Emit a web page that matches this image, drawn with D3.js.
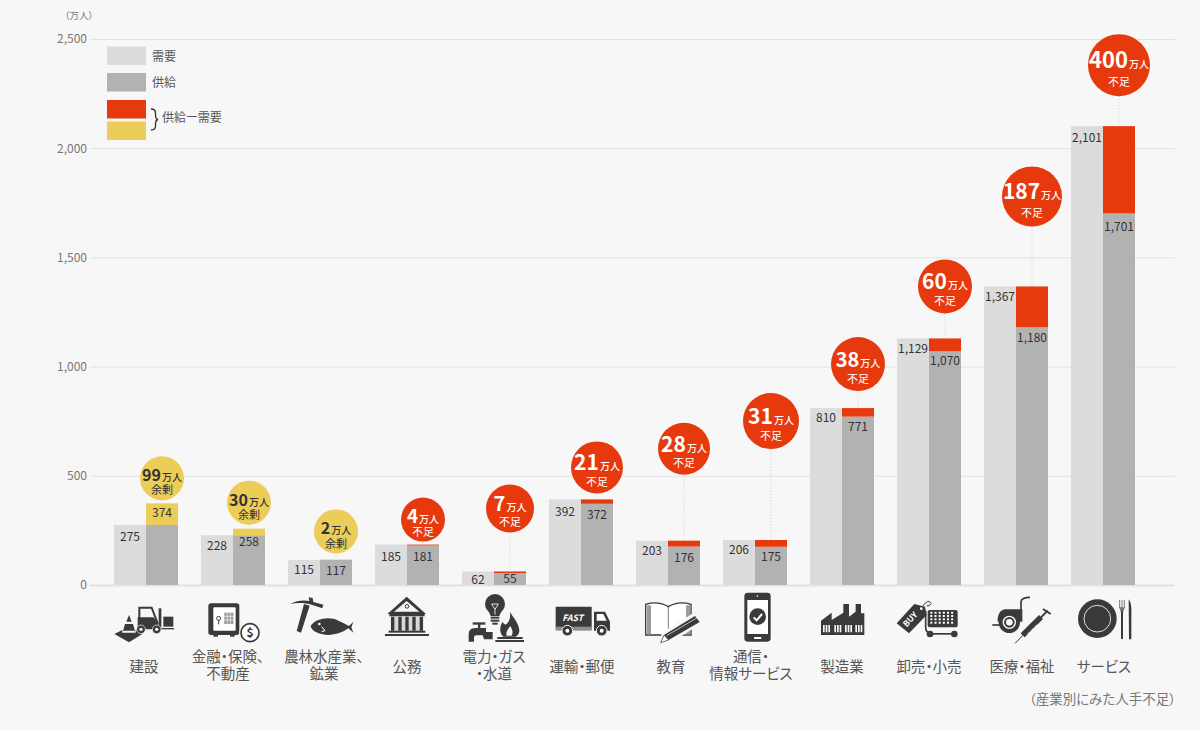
<!DOCTYPE html>
<html lang="ja">
<head>
<meta charset="utf-8">
<title>産業別にみた人手不足</title>
<script src="https://cdn.jsdelivr.net/npm/d3@7"></script>
<style>
    body { margin: 0; background: #f7f7f7; }
    svg { display: block; }
    text { font-family: "Noto Sans CJK JP", "Noto Sans", sans-serif; font-feature-settings: "palt"; }
</style>
</head>
<body>
<script>
//chart values
var categories = ["建設", "金融・保険、不動産", "農林水産業、鉱業", "公務", "電力・ガス・水道", "運輸・郵便", "教育", "通信・情報サービス", "製造業", "卸売・小売", "医療・福祉", "サービス"];
var categoryLines = [["建設"], ["金融・保険、", "不動産"], ["農林水産業、", "鉱業"], ["公務"], ["電力・ガス", "・水道"], ["運輸・郵便"], ["教育"], ["通信・", "情報サービス"], ["製造業"], ["卸売・小売"], ["医療・福祉"], ["サービス"]];
var demand = [275, 228, 115, 185, 62, 392, 203, 206, 810, 1129, 1367, 2101];
var supply = [374, 258, 117, 181, 55, 372, 176, 175, 771, 1070, 1180, 1701];
var gapLabels = [99, 30, 2, 4, 7, 21, 28, 31, 38, 60, 187, 400];
var yTicks = [0, 500, 1000, 1500, 2000, 2500];

//hand placed layout
var bubbleRadius = [22, 22, 22, 22, 24, 26, 26, 28, 27, 27, 30, 31];
var bubbleGap = [3, 4, 6, 3, 39, 6, 66, 91, 17, 25, 60, 30];
var bubbleFont = [16, 16, 16, 19, 20, 21, 21, 21, 20, 21, 21, 22];
var demandLabelGap = [12, 11, 10, 12, 8, 12, 10, 10, 10, 10, 10, 12];
var supplyLabelGap = [9, 13, 11, 11, 6, 11, 11, 10, 10, 9, 11, 13];
var labelShift = [-2, -5, 4, 0, 0, 1, 3, -4, 0, 0, 6, 1];

var RED = "#e63a0e", YELLOW = "#eccd58", LIGHT = "#dcdcdc", GREY = "#b2b2b2", DARK = "#3a3a3a", BG = "#f7f7f7";

//icons are drawn at 3x, "dx" moves them from the centre of the category
var icons = [
    {dx: -41, svg: `
        <path d="M28 132L52 120V128H92V120L112 132L72 157Z"/>
        <path d="M72 75L64 95H80ZM60 102H84L90 122H54Z"/>
        <path d="M103 85V53H140L158 100" fill="none" stroke="${DARK}" stroke-width="6"/>
        <path d="M98 82H145L160 100V118H98Z"/>
        <rect x="161" y="55" width="8" height="65"/><rect x="175" y="80" width="30" height="30"/><rect x="170" y="114" width="37" height="4"/>
        <circle cx="108" cy="118" r="13" stroke="${BG}" stroke-width="2"/><circle cx="108" cy="118" r="5" fill="${BG}"/>
        <circle cx="155" cy="118" r="13" stroke="${BG}" stroke-width="2"/><circle cx="155" cy="118" r="5" fill="${BG}"/>`},
    {dx: -128, svg: `
        <rect x="310" y="40" width="93" height="95" rx="8"/>
        <rect x="325" y="52" width="67" height="70" rx="3" fill="#fff"/>
        <rect x="325" y="135" width="14" height="5"/><rect x="375" y="135" width="14" height="5"/>
        <circle cx="341" cy="85" r="6" fill="none" stroke="${DARK}" stroke-width="3"/><rect x="339.5" y="91" width="3" height="12"/>
        <rect x="358" y="68" width="27" height="34" fill="#9a9a9a"/>
        <path d="M367 68V102M376 68V102M358 79H385M358 90H385" stroke="#fff" stroke-width="2"/>
        <circle cx="435" cy="128" r="32" fill="${BG}"/>
        <circle cx="435" cy="128" r="27" fill="#fff" stroke="${DARK}" stroke-width="5"/>
        <text x="435" y="141" text-anchor="middle" font-size="36" font-weight="700">$</text>`},
    {dx: -40, svg: `
        <path d="M30 42C50 30 75 30 88 33L86 22L98 24L100 36L130 44L127 55L95 44C75 38 50 38 30 42Z"/>
        <path d="M72 42L89 47L63 128L50 123Z"/>
        <path d="M92 108C105 85 150 78 175 92C190 98 200 105 207 108L220 95L214 112L220 128L205 115C185 130 150 140 125 132C108 128 95 122 92 108Z"/>
        <circle cx="118" cy="102" r="4" fill="#fff"/>
        <path d="M125 110L135 122L125 125" fill="none" stroke="#fff" stroke-width="3"/>`},
    {dx: -127, svg: `
        <path d="M322 72L380 20L438 72Z"/><path d="M342 65L380 33L418 65Z" fill="${BG}"/>
        <circle cx="381" cy="49" r="5.5" fill="none" stroke="${DARK}" stroke-width="3"/>
        <rect x="328" y="70" width="106" height="9"/>
        <rect x="332" y="80" width="98" height="42" fill="#d8d8d8"/>
        <path d="M338 80V122M360 80V122M381 80V122M402 80V122M424 80V122" stroke="${DARK}" stroke-width="10"/>
        <rect x="326" y="122" width="110" height="6"/><rect x="315" y="132" width="132" height="6"/>`},
    {dx: -34, svg: `
        <circle cx="105" cy="42" r="30"/><path d="M85 62H125L118 78H92Z"/>
        <rect x="92" y="80" width="26" height="6"/><rect x="92" y="89" width="26" height="6"/><rect x="97" y="98" width="16" height="6"/>
        <path d="M95 42H115L105 58ZM105 58V74" fill="none" stroke="#fff" stroke-width="2.5"/>
        <rect x="38" y="97" width="38" height="7"/><rect x="54" y="100" width="7" height="16"/>
        <path d="M26 155V132Q26 114 46 114H78V126H98V148H72L68 136H48Q42 136 42 142V155Z"/>
        <path d="M150 65C160 85 175 95 178 120C178 135 168 140 168 140H130C118 130 118 110 128 95C132 105 138 105 142 100C150 90 152 78 150 65Z"/>
        <path d="M150 108C158 118 160 128 155 137H140C136 125 145 118 150 108Z" fill="${BG}"/>
        <rect x="112" y="141" width="76" height="6"/><rect x="106" y="150" width="86" height="6"/>`},
    {dx: -121, svg: `
        <path d="M287 50H395V118H287Z"/><rect x="287" y="110" width="108" height="12" fill="#8e8e8e"/>
        <text x="338" y="92" text-anchor="middle" font-size="26" font-weight="700" font-style="italic" fill="#fff">FAST</text>
        <path d="M402 65H435L450 95V122H402Z"/><path d="M410 72H430L440 92H410Z" fill="#fff"/>
        <circle cx="322" cy="122" r="16" stroke="${BG}" stroke-width="3"/><circle cx="322" cy="122" r="6" fill="#fff"/>
        <circle cx="425" cy="122" r="16" stroke="${BG}" stroke-width="3"/><circle cx="425" cy="122" r="6" fill="#fff"/>`},
    {dx: -28, svg: `
        <path d="M17 43Q55 32 85 50Q115 32 153 43V135H17Z" fill="#fff" stroke="${DARK}" stroke-width="4"/>
        <rect x="21" y="46" width="12" height="87" fill="#9c9c9c"/><rect x="138" y="46" width="13" height="87" fill="#9c9c9c"/>
        <path d="M85 50V135" stroke="${DARK}" stroke-width="2"/>
        <path d="M55 165L66 128L166 65L190 97L90 160Z" fill="${BG}"/>
        <path d="M62 158L72 135L165 78L179 96L86 150Z"/>
        <path d="M72 135L86 150L62 158Z" fill="#fff" stroke="${DARK}" stroke-width="2"/>
        <path d="M80 137L170 84" stroke="#fff" stroke-width="2"/>`},
    {dx: -115, svg: `
        <rect x="313" y="8" width="79" height="147" rx="10"/><rect x="322" y="30" width="62" height="102" fill="#fff"/>
        <circle cx="352" cy="18" r="2.5" fill="#fff"/><rect x="342" y="141" width="22" height="6" rx="2" fill="#fff"/>
        <circle cx="353" cy="80" r="25"/><path d="M341 82L350 91L366 72" fill="none" stroke="#fff" stroke-width="6"/>`},
    {dx: -27, svg: `
        <path d="M18 135V92L50 68V90L85 68V42H102V80L122 65V42H138V70H148V135Z"/>
        <path d="M24 105h5v22h-5zM32 105h5v22h-5zM40 105h5v22h-5zM58 105h5v22h-5zM66 105h5v22h-5zM74 105h5v22h-5zM90 105h5v22h-5zM98 105h5v22h-5zM106 105h5v22h-5zM121 105h5v22h-5zM129 105h5v22h-5zM137 105h5v22h-5z" fill="${BG}"/>`},
    {dx: -114, svg: `
        <path d="M245 100L298 42L330 50L335 75L282 130Z"/>
        <circle cx="319" cy="56" r="4" fill="#fff"/>
        <text transform="translate(292 94) rotate(-47)" text-anchor="middle" font-size="25" font-weight="700" fill="#fff">BUY</text>
        <path d="M322 50Q340 24 348 40Q345 50 335 48" fill="none" stroke="${DARK}" stroke-width="3"/>
        <rect x="338" y="60" width="90" height="52" rx="6"/>
        <path d="M346 68H420M346 78H420M346 88H420M346 98H420" fill="none" stroke="#fff" stroke-width="6" stroke-dasharray="6 6.5"/>
        <path d="M332 62V112Q332 128 345 130" fill="none" stroke="${DARK}" stroke-width="5"/>
        <rect x="340" y="129" width="82" height="5"/><circle cx="345" cy="132" r="10"/><circle cx="418" cy="132" r="10"/>`},
    {dx: -31, svg: `
        <path d="M108 62V35Q110 22 135 22" fill="none" stroke="${DARK}" stroke-width="5"/>
        <path d="M38 85Q42 60 60 58H112V95H38Z"/>
        <circle cx="73" cy="97" r="32"/><circle cx="73" cy="97" r="20" fill="#fff"/><circle cx="73" cy="97" r="16"/><circle cx="73" cy="97" r="10" fill="#fff"/>
        <path d="M22 105H44" stroke="${DARK}" stroke-width="5"/>
        <path d="M90 160L116 134" stroke="${DARK}" stroke-width="3"/>
        <path d="M113 136L168 81" stroke="${DARK}" stroke-width="17"/>
        <path d="M138 122L146 114M148 112L156 104M128 132L136 124" stroke="#fff" stroke-width="3"/>
        <path d="M168 82L188 62" stroke="${DARK}" stroke-width="6"/><path d="M174 57L197 72" stroke="${DARK}" stroke-width="6"/>`},
    {dx: -118, svg: `
        <circle cx="337" cy="86" r="58"/><circle cx="337" cy="86" r="40" fill="none" stroke="#fff" stroke-width="2.5"/>
        <path d="M404 30V55M411 30V55M418 30V55" stroke="#777" stroke-width="3"/><path d="M403 52H419L415 65H407Z" fill="#777"/>
        <rect x="408" y="62" width="6" height="86" rx="3"/>
        <path d="M431 28Q441 40 439 72V148H432Z"/>`}
];

var width = 1200,
    height = 730;

var svg = d3.select("body")
    .append("svg")
    .attr("width", width)
    .attr("height", height);

//scales
var y = d3.scaleLinear()
    .domain([0, 2500])
    .range([585, 39]);

var x = d3.scaleBand()
    .domain(categories)
    .range([114, 1135])
    .paddingInner(23 / 87)
    .paddingOuter(0);

var side = d3.scaleBand()
    .domain(["demand", "supply"])
    .range([0, x.bandwidth()]);

//y axis with gridlines
var yAxis = svg.append("g")
    .attr("transform", "translate(90,0)")
    .call(d3.axisLeft(y).tickValues(yTicks).tickSize(-1085).tickPadding(3).tickFormat(d3.format(",")));

yAxis.select(".domain").remove();
yAxis.selectAll("line")
    .attr("stroke", "#e2e2e2")
    .attr("stroke-width", function(d){ return d == 0 ? 2 : 1; });
yAxis.selectAll("text")
    .attr("font-size", 12)
    .attr("fill", "#777")
    .style("font-family", '"Noto Sans CJK JP"');

svg.append("text")
    .attr("x", 79)
    .attr("y", 19)
    .attr("text-anchor", "middle")
    .attr("font-size", 9.5)
    .attr("fill", "#777")
    .text("（万人）");

//one group per category
var groups = svg.selectAll(".category")
    .data(categories)
    .enter()
    .append("g")
    .attr("class", "category");

function demandX(d){ return x(d) + side("demand"); }
function supplyX(d){ return x(d) + side("supply"); }
function topValue(i){ return Math.max(demand[i], supply[i]); }

groups.append("rect")
    .attr("x", demandX)
    .attr("y", function(d, i){ return y(demand[i]); })
    .attr("width", side.bandwidth())
    .attr("height", function(d, i){ return y(0) - y(demand[i]); })
    .attr("fill", LIGHT);

//grey part of the supply bar stops at the lower of the two values
groups.append("rect")
    .attr("x", supplyX)
    .attr("y", function(d, i){ return y(Math.min(demand[i], supply[i])); })
    .attr("width", side.bandwidth())
    .attr("height", function(d, i){ return y(0) - y(Math.min(demand[i], supply[i])); })
    .attr("fill", GREY);

//difference on top of it
groups.append("rect")
    .attr("x", supplyX)
    .attr("y", function(d, i){ return y(topValue(i)); })
    .attr("width", side.bandwidth())
    .attr("height", function(d, i){ return Math.abs(y(demand[i]) - y(supply[i])); })
    .attr("fill", function(d, i){ return supply[i] > demand[i] ? YELLOW : RED; });

groups.append("text")
    .attr("x", function(d){ return demandX(d) + side.bandwidth() / 2; })
    .attr("y", function(d, i){ return y(demand[i]) + demandLabelGap[i]; })
    .attr("dy", "0.35em")
    .attr("text-anchor", "middle")
    .attr("font-size", 12)
    .attr("fill", "#333")
    .text(function(d, i){ return d3.format(",")(demand[i]); });

groups.append("text")
    .attr("x", function(d){ return supplyX(d) + side.bandwidth() / 2; })
    .attr("y", function(d, i){ return y(supply[i]) + supplyLabelGap[i]; })
    .attr("dy", "0.35em")
    .attr("text-anchor", "middle")
    .attr("font-size", 12)
    .attr("fill", "#333")
    .text(function(d, i){ return d3.format(",")(supply[i]); });

//bubbles with dotted leader lines
function bubbleY(i){ return y(topValue(i)) - bubbleGap[i] - bubbleRadius[i]; }
function bubbleX(d){ return supplyX(d) + side.bandwidth() / 2; }

groups.append("line")
    .attr("x1", bubbleX)
    .attr("x2", bubbleX)
    .attr("y1", function(d, i){ return bubbleY(i) + bubbleRadius[i]; })
    .attr("y2", function(d, i){ return y(topValue(i)); })
    .attr("stroke", "#f0c8bc")
    .attr("stroke-width", 1)
    .attr("stroke-dasharray", "1 2");

groups.append("circle")
    .attr("cx", bubbleX)
    .attr("cy", function(d, i){ return bubbleY(i); })
    .attr("r", function(d, i){ return bubbleRadius[i]; })
    .attr("fill", function(d, i){ return supply[i] > demand[i] ? YELLOW : RED; });

function bubbleInk(i){ return supply[i] > demand[i] ? "#333" : "#fff"; }

var gapText = groups.append("text")
    .attr("x", bubbleX)
    .attr("y", function(d, i){ return bubbleY(i) + 3; })
    .attr("text-anchor", "middle")
    .attr("fill", function(d, i){ return bubbleInk(i); });

gapText.append("tspan")
    .attr("font-size", function(d, i){ return bubbleFont[i]; })
    .attr("font-weight", 700)
    .text(function(d, i){ return gapLabels[i]; });

gapText.append("tspan")
    .attr("font-size", 10)
    .attr("font-weight", 500)
    .attr("dx", 1)
    .text("万人");

groups.append("text")
    .attr("x", bubbleX)
    .attr("y", function(d, i){ return bubbleY(i) + bubbleRadius[i] * 0.55 + 4; })
    .attr("text-anchor", "middle")
    .attr("font-size", 11)
    .attr("fill", function(d, i){ return bubbleInk(i); })
    .text(function(d, i){ return supply[i] > demand[i] ? "余剰" : "不足"; });

//icons under the axis
groups.append("g")
    .attr("transform", function(d, i){
        return "translate(" + (x(d) + x.bandwidth() / 2 + icons[i].dx) + ",590) scale(" + (1 / 3) + ")";
    })
    .attr("fill", DARK)
    .html(function(d, i){ return icons[i].svg; });

//category names, one or two lines
groups.each(function(d, i){
    var lines = categoryLines[i];
    d3.select(this).selectAll(".name")
        .data(lines)
        .enter()
        .append("text")
        .attr("class", "name")
        .attr("x", x(d) + x.bandwidth() / 2 + labelShift[i])
        .attr("y", function(l, j){ return lines.length == 1 ? 672 : 662 + j * 17; })
        .attr("text-anchor", "middle")
        .attr("font-size", 14.5)
        .attr("fill", "#555")
        .text(function(l){ return l; });
});

//legend
var legendNames = ["需要", "供給", "", ""];
var legendColors = [LIGHT, GREY, RED, YELLOW];
var legendRows = [46.5, 73, 100, 121.5];

var legend = svg.append("g");

legend.selectAll("rect")
    .data(legendColors)
    .enter()
    .append("rect")
    .attr("x", 107)
    .attr("y", function(d, i){ return legendRows[i]; })
    .attr("width", 39)
    .attr("height", 18.5)
    .attr("fill", function(d){ return d; });

legend.selectAll("text")
    .data(legendNames)
    .enter()
    .append("text")
    .attr("x", 152)
    .attr("y", function(d, i){ return legendRows[i] + 14; })
    .attr("font-size", 12)
    .attr("fill", "#555")
    .text(function(d){ return d; });

legend.append("path")
    .attr("d", "M151 109Q155.5 109 155.5 113V115Q155.5 119 158 119.5Q155.5 120 155.5 124V126Q155.5 130 151 130")
    .attr("fill", "none")
    .attr("stroke", "#333")
    .attr("stroke-width", 1.3);

legend.append("text")
    .attr("x", 162)
    .attr("y", 122)
    .attr("font-size", 12)
    .attr("fill", "#555")
    .text("供給ー需要");

svg.append("text")
    .attr("x", 1176)
    .attr("y", 704)
    .attr("text-anchor", "end")
    .attr("font-size", 13.5)
    .attr("fill", "#777")
    .text("（産業別にみた人手不足）");
</script>
</body>
</html>
